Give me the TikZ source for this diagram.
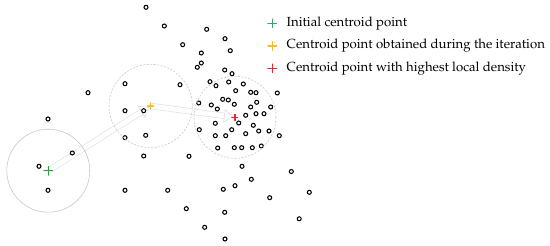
\documentclass[tikz,border=0pt]{standalone}
\usepackage[T1]{fontenc}
\usepackage{mathpazo}
\usepackage{xcolor}
\usepackage{tikz}
\usetikzlibrary{arrows.meta, positioning, backgrounds}
\definecolor{initgreen}{RGB}{40, 165, 50}
\definecolor{legendgreen}{RGB}{70, 160, 110}
\definecolor{iteryellow}{RGB}{250, 190, 40}
\definecolor{densered}{RGB}{235, 40, 45}
\definecolor{windowgray}{RGB}{200, 200, 200}
\definecolor{flowgray}{RGB}{222, 222, 222}

\begin{document}
\begin{tikzpicture}[
    x=1pt, y=-1pt,
    sample/.style={circle, draw=black, line width=1.05pt, inner sep=0pt, minimum size=4pt},
    centroid/.style={circle, inner sep=0pt, minimum size=#1,
                     path picture={\draw[line width=1.1pt, pencolor]
                       (path picture bounding box.north) -- (path picture bounding box.south)
                       (path picture bounding box.west) -- (path picture bounding box.east);}},
    pencolor/.style={draw=black},
    window/.style={draw=windowgray, line width=0.6pt},
    searchwindow/.style={window, dashed, dash pattern=on 2pt off 1.5pt},
    shiftarrow/.style={draw=flowgray, line width=0.6pt, double=white, double distance=5pt,
                       shorten >=2pt, -{Triangle[open, length=9pt, width=14pt]}},
    legendtext/.style={anchor=west, font=\fontsize{13.2}{16}\selectfont, inner sep=2pt}
]
    \useasboundingbox (0,0) rectangle (550,246);

    % sample points
    \foreach \px/\py [count=\i] in {146/7.3, 164.3/26, 206.7/29.3, 182.7/44.7, 225/38.7,
        201.3/53, 230.3/50.7, 201.3/63, 197.3/67.3, 224.7/70, 232/73.7, 88/92.7,
        125/83.7, 180/84.7, 210/81.7, 216/85.7, 228.7/82, 243.3/84, 235.7/90.7,
        250.7/92.3, 256/92.7, 277.3/93, 48/119, 125/110.7, 143.7/110.7, 198.7/103,
        211.3/105, 217.3/109, 222.7/99.3, 228.3/100, 234.3/104.3, 250.7/107,
        256.7/102.3, 270.7/107, 256/113.7, 264/113.7, 245.7/115.3, 238.7/123,
        215.3/123.3, 125/137.7, 145.7/135.3, 199.3/129.7, 215.3/135.7, 225.7/135.7,
        231.7/129.7, 245.7/133.7, 253.3/125.3, 258.7/131, 269/131, 279.3/135.7,
        72.3/153, 39/166.3, 143.7/156, 189/156.3, 217.7/148, 234.3/147.7,
        241.7/147.7, 252.3/147.7, 261.3/146, 242/166.3, 251.3/179.3, 291.3/171.5,
        48/190.3, 125/190.3, 167.7/190.3, 223.3/189.3, 235/185.7, 269.7/197.7,
        309.3/192.3, 186.3/208.7, 224.7/212.3, 299.2/218.8, 204.7/227.3, 225/239}
        \node[sample] (p\i) at (\px,\py) {};

    % centroids
    \node[centroid=10pt, pencolor/.style={draw=initgreen}] (init) at (48.3,170.7) {};
    \node[centroid=7.5pt, pencolor/.style={draw=iteryellow}] (iter) at (150.7,106) {};
    \node[centroid=7.5pt, pencolor/.style={draw=densered}] (dense) at (235,117.3) {};

    % windows
    \draw[window] (init) circle (41.5);
    \draw[searchwindow] (iter) circle (41.7);
    \draw[searchwindow] (dense) circle (41);

    % mean shift steps
    \begin{scope}[on background layer]
        \draw[shiftarrow] (init.center) -- (iter.center);
        \draw[shiftarrow] (iter.center) -- (dense.center);
    \end{scope}

    % legend
    \node[centroid=10pt, pencolor/.style={draw=legendgreen}] (leginit) at (272.3,23.5) {};
    \node[centroid=10pt, pencolor/.style={draw=iteryellow}] (legiter) at (272.3,46) {};
    \node[centroid=10pt, pencolor/.style={draw=densered}] (legdense) at (272.3,68.5) {};
    \node[legendtext, right=7pt of leginit] (txtinit) {Initial centroid point};
    \node[legendtext, right=7pt of legiter] (txtiter) {Centroid point obtained during the iteration};
    \node[legendtext, right=7pt of legdense] (txtdense) {Centroid point with highest local density};
\end{tikzpicture}
\end{document}
